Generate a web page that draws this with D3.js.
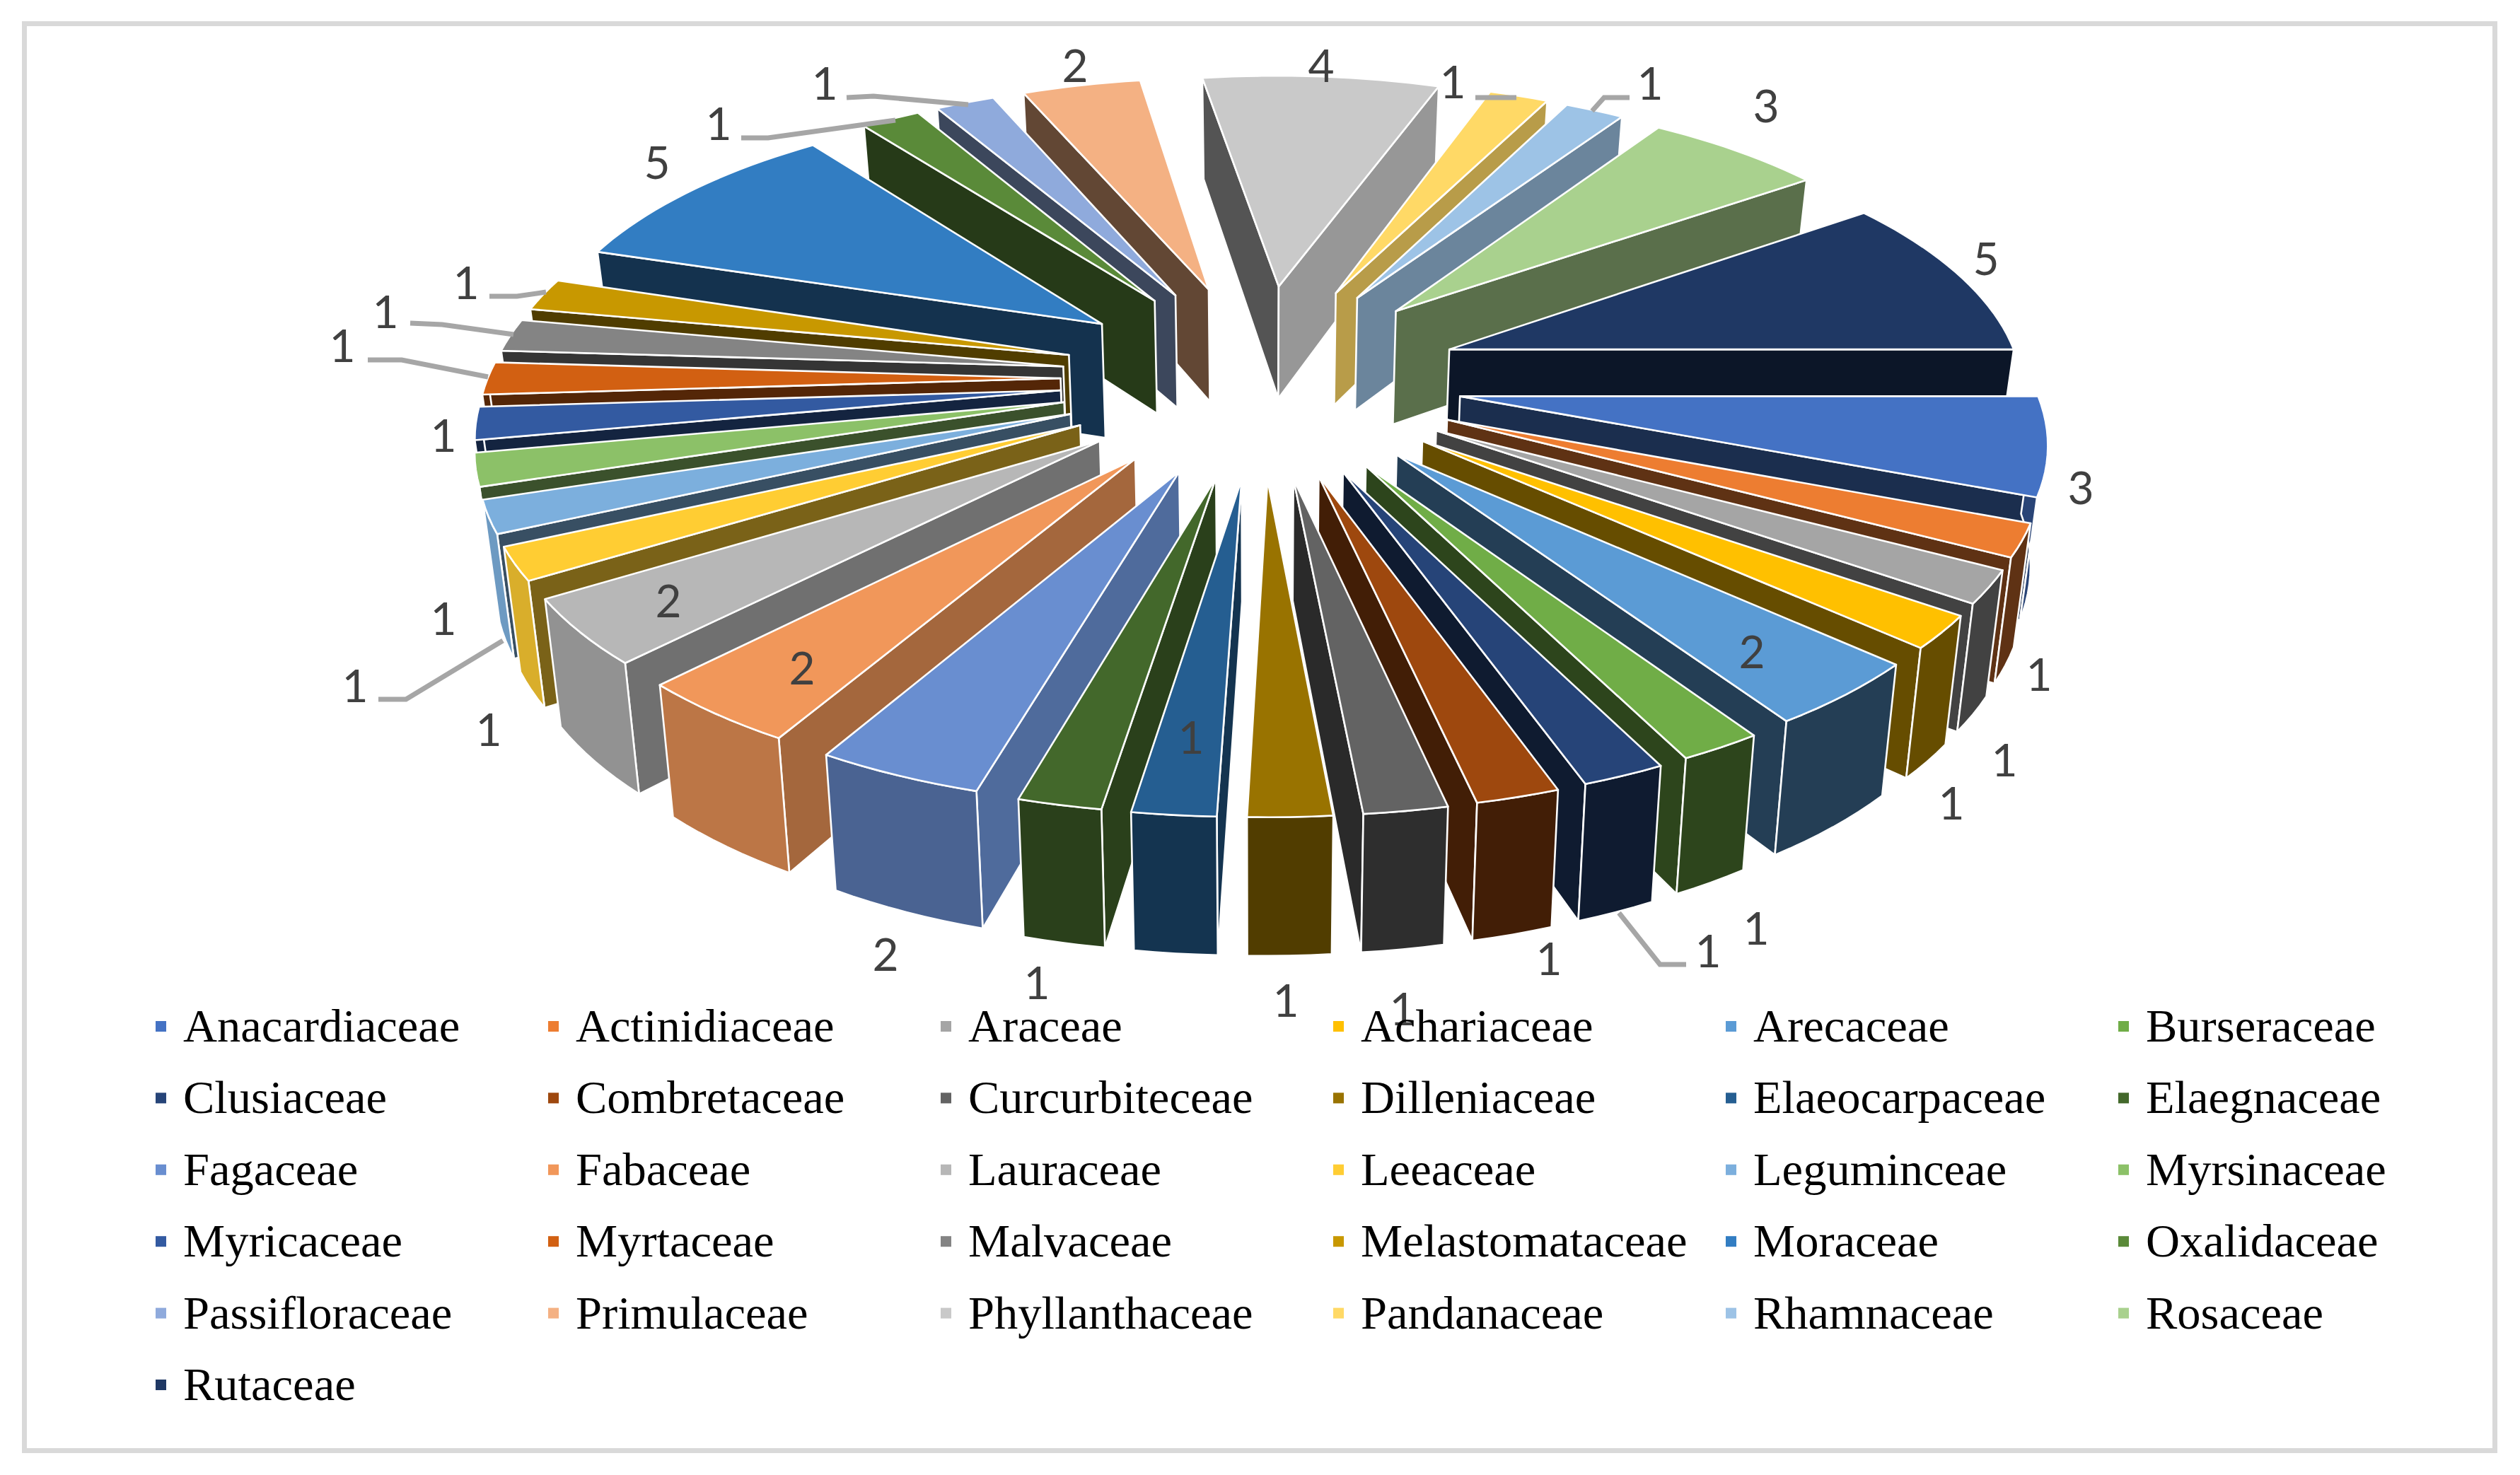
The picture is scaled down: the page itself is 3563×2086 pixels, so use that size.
<!DOCTYPE html>
<html><head><meta charset="utf-8">
<script src="https://cdn.jsdelivr.net/npm/d3@7"></script>
<style>html,body{margin:0;padding:0;background:#fff}svg{display:block}</style></head>
<body><svg id="c" width="3563" height="2086"></svg>
<script>
const categories=["Anacardiaceae","Actinidiaceae","Araceae","Achariaceae","Arecaceae","Burseraceae","Clusiaceae","Combretaceae","Curcurbiteceae","Dilleniaceae","Elaeocarpaceae","Elaegnaceae","Fagaceae","Fabaceae","Lauraceae","Leeaceae","Leguminceae","Myrsinaceae","Myricaceae","Myrtaceae","Malvaceae","Melastomataceae","Moraceae","Oxalidaceae","Passifloraceae","Primulaceae","Phyllanthaceae","Pandanaceae","Rhamnaceae","Rosaceae","Rutaceae"];
const values=[3,1,1,1,2,1,1,1,1,1,1,1,2,2,2,1,1,1,1,1,1,1,5,1,1,2,4,1,1,3,5];
const topColors=["#4472C4","#ED7D31","#A5A5A5","#FFC000","#5B9BD5","#70AD47","#264478","#9E480E","#636363","#997300","#255E91","#43682B","#698ED0","#F1975A","#B7B7B7","#FFCD33","#7CAFDD","#8CC168","#335AA1","#D26012","#848484","#C89800","#327DC2","#5A8A39","#8FAADC","#F4B183","#C9C9C9","#FFD966","#9DC3E6","#A9D18E","#1F3864"];
const endWallShade=[.4,.4,.4,.4,.4,.4,.4,.42,.42,.53,.55,.62,.75,.68,.61,.48,.45,.42,.4,.4,.4,.4,.4,.42,.42,.4,.75,.72,.68,.53,.4];
const startWallShade=[.4,.4,.4,.4,.4,.4,.4,.42,.42,.53,.55,.62,.75,.68,.61,.48,.45,.42,.4,.4,.4,.4,.4,.42,.42,.4,.42,.72,.68,.53,.4];
const outerShade=[.6,.4,.4,.4,.4,.4,.4,.42,.46,.53,.55,.62,.7,.78,.8,.85,.88,.6,.4,.4,.4,.4,.4,.42,.42,.4,.42,.72,.68,.53,.4];
// label layout, in page pixels
const labelLayout=[[2942,690],[2883,954],[2834,1075],[2759,1136],[2477,922],[2483,1313],[2415,1345],[2190,1356],[1983,1427],[1818,1415],[1684,1043],[1466,1390],[1252,1350],[1134,945],[945,850],[691,1032],[502,970],[627,875],[627,616],[484,489],[545,441],[659,400],[929,230],[1016,175],[1166,118],[1520,93],[1868,93],[2054,116],[2333,118],[2497,150],[2808,366]];
const leaderLayout=[
 [[2289,1291],[2347,1364],[2384,1364]],
 [[711,906],[574,989],[535,989]],
 [[690,533],[568,509],[520,509]],
 [[726,473],[625,459],[580,457]],
 [[772,413],[731,419],[692,419]],
 [[1266,170],[1086,195],[1048,195]],
 [[1369,148],[1235,136],[1197,138]],
 [[2086,138],[2144,138]],
 [[2251,157],[2268,138],[2304,138]]
];
const legendRowStep=101.4, legendColStep=555, legendCols=6;

const cx=1783,cy=535,A=810,B=370,k=.134,Ex=.35,Ey=.37,T0=165,shrink=.978;
const sx=d3.scaleLinear().domain([0,1]).range([0,A]);
const sy=d3.scaleLinear().domain([0,1]).range([0,B]);
function proj(X,Y,z){
  const w=1-k*Y;
  const x=sx(X)/w, y=sy(Y)/w;
  return z? [cx+x*shrink, cy+y+T0/Math.pow(w,.85)] : [cx+x, cy+y];
}
const svg=d3.select("#c");
svg.append("rect").attr("x",34.5).attr("y",33.5).attr("width",3493).attr("height",2018).attr("fill","#fff").attr("stroke","#d9d9d9").attr("stroke-width",7);

const pie=d3.pie().sort(null).startAngle(Math.PI/2).endAngle(Math.PI*2.5);
const arcs=pie(values).map((d,i)=>({...d,i,mid:(d.startAngle+d.endAngle)/2}));
const line=d3.line();
function slicePts(d){
  const ox=Ex*Math.sin(d.mid), oy=-Ey*Math.cos(d.mid);
  const n=Math.max(4,Math.round((d.endAngle-d.startAngle)/.03));
  const as=d3.range(n+1).map(j=>d.startAngle+(d.endAngle-d.startAngle)*j/n);
  return {apex:[ox,oy],as,arc:as.map(a=>[ox+Math.sin(a),oy-Math.cos(a)])};
}
const order=arcs.slice().sort((a,b)=>-Math.cos(a.mid)+Math.cos(b.mid));
const g=svg.append("g").attr("stroke","#fff").attr("stroke-width",2.6).attr("stroke-linejoin","round");
function shade(c,f){const q=d3.rgb(c);return d3.rgb(q.r*f,q.g*f,q.b*f).formatHex();}
const area=pts=>d3.polygonArea(pts);
order.forEach(d=>{
  const p=slicePts(d),c=topColors[d.i];
  const a0=p.arc[0],a1=p.arc[p.arc.length-1];
  const wall=(u,v)=>[proj(u[0],u[1],0),proj(v[0],v[1],0),proj(v[0],v[1],1),proj(u[0],u[1],1)];
  const w0=wall(p.apex,a0), w1=wall(p.apex,a1);
  if(area(w0)>0) g.append("path").attr("d",line(w0)+"Z").attr("fill",shade(c,startWallShade[d.i]));
  if(area(w1)<0) g.append("path").attr("d",line(w1)+"Z").attr("fill",shade(c,endWallShade[d.i]));
  const front=p.arc.filter((q,j)=>p.as[j]>=Math.PI/2-1e-6&&p.as[j]<=Math.PI*1.5+1e-6);
  if(front.length>1){
    const o=front.map(q=>proj(q[0],q[1],0)).concat(front.slice().reverse().map(q=>proj(q[0],q[1],1)));
    g.append("path").attr("d",line(o)+"Z").attr("fill",shade(c,outerShade[d.i]));
  }
  const t=[proj(p.apex[0],p.apex[1],0)].concat(p.arc.map(q=>proj(q[0],q[1],0)));
  g.append("path").attr("d",line(t)+"Z").attr("fill",c);
});
svg.append("g").selectAll("path").data(leaderLayout).join("path").attr("d",d=>line(d)).attr("fill","none").attr("stroke","#a6a6a6").attr("stroke-width",7);
svg.append("g").selectAll("text").data(values).join("text")
 .attr("x",(d,i)=>labelLayout[i][0]).attr("y",(d,i)=>labelLayout[i][1]+23)
 .attr("text-anchor","middle").attr("font-family","Lato").attr("font-size",64).attr("fill","#404040").text(d=>d);
const leg=svg.append("g").selectAll("g").data(categories).join("g")
 .attr("transform",(d,i)=>`translate(${220+legendColStep*(i%legendCols)},${1452+legendRowStep*Math.floor(i/legendCols)})`);
leg.append("rect").attr("x",0).attr("y",-8).attr("width",15).attr("height",15).attr("fill",(d,i)=>topColors[i]);
leg.append("text").attr("x",39).attr("y",21).attr("font-family","Liberation Serif").attr("font-size",66.5).attr("fill","#000").text(d=>d);
</script></body></html>
